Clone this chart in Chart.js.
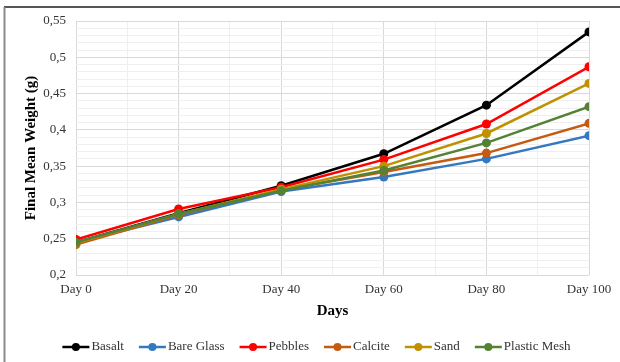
<!DOCTYPE html>
<html>
<head>
<meta charset="utf-8">
<script src="https://cdn.jsdelivr.net/npm/chart.js@4.4.1/dist/chart.umd.min.js"></script>
<style>
  body { margin: 0; background: #fff; }
  #wrap { width: 620px; height: 362px; position: relative; }
</style>
</head>
<body>
<div id="wrap"><canvas id="chart"></canvas></div>
<script>
const days = [0, 20, 40, 60, 80, 100];
const dayLabels = ["Day 0", "Day 20", "Day 40", "Day 60", "Day 80", "Day 100"];
const seriesNames = ["Basalt", "Bare Glass", "Pebbles", "Calcite", "Sand", "Plastic Mesh"];
const basalt = [0.245, 0.285, 0.323, 0.367, 0.434, 0.535];
const bareGlass = [0.245, 0.280, 0.315, 0.335, 0.360, 0.392];
const pebbles = [0.249, 0.291, 0.321, 0.359, 0.408, 0.487];
const calcite = [0.242, 0.283, 0.317, 0.342, 0.368, 0.409];
const sand = [0.244, 0.284, 0.318, 0.350, 0.395, 0.464];
const plasticMesh = [0.245, 0.284, 0.316, 0.344, 0.382, 0.432];
const yTicksMajor = [0.2, 0.25, 0.3, 0.35, 0.4, 0.45, 0.5, 0.55];

const colors = ["#000000", "#3478c0", "#ff0000", "#c55a11", "#bf9000", "#548235"];
const allSeries = [basalt, bareGlass, pebbles, calcite, sand, plasticMesh];

const datasets = allSeries.map((vals, i) => ({
  label: seriesNames[i],
  data: vals.map((v, j) => ({ x: days[j], y: v })),
  borderColor: colors[i],
  backgroundColor: colors[i],
  borderWidth: 2.5,
  pointRadius: 4.5,
  pointHoverRadius: 4.5,
  pointBorderWidth: 0,
  tension: 0,
  order: allSeries.length - i   // last series drawn on top, like Excel
}));

// chart border (top + left only are visible in the picture)
const frame = {
  id: "frame",
  afterDraw(chart) {
    const ctx = chart.ctx;
    ctx.save();
    ctx.strokeStyle = "#555";
    ctx.lineWidth = 2;
    ctx.beginPath(); ctx.moveTo(4, 7); ctx.lineTo(620, 7); ctx.stroke();
    ctx.strokeStyle = "#8a8a8a";
    ctx.beginPath(); ctx.moveTo(4.5, 7); ctx.lineTo(4.5, 362); ctx.stroke();
    ctx.restore();
  }
};

// legend with a short line + dot per series, drawn in the reserved bottom space
const lineLegend = {
  id: "lineLegend",
  afterDraw(chart) {
    const ctx = chart.ctx;
    const sets = chart.data.datasets;
    const markW = 27, gapText = 2, gapItem = 15, y = 347;
    ctx.save();
    ctx.font = "13px 'Liberation Serif'";
    const widths = sets.map(d => markW + gapText + ctx.measureText(d.label).width);
    const total = widths.reduce((a, b) => a + b, 0) + gapItem * (sets.length - 1);
    let x = 316.5 - total / 2;
    sets.forEach((d, i) => {
      ctx.strokeStyle = d.borderColor;
      ctx.lineWidth = 2.5;
      ctx.beginPath(); ctx.moveTo(x, y); ctx.lineTo(x + markW, y); ctx.stroke();
      ctx.fillStyle = d.borderColor;
      ctx.beginPath(); ctx.arc(x + markW / 2, y, 4, 0, Math.PI * 2); ctx.fill();
      ctx.fillStyle = "#333";
      ctx.textBaseline = "middle";
      ctx.fillText(d.label, x + markW + gapText, y);
      x += widths[i] + gapItem;
    });
    ctx.restore();
  }
};

function fmt(v) {
  return (Math.round(v * 100) / 100).toString().replace(".", ",");
}
function isMajorY(v) {
  return yTicksMajor.some(t => Math.abs(t - v) < 1e-6);
}

new Chart(document.getElementById("chart"), {
  type: "line",
  data: { datasets },
  options: {
    responsive: true,
    maintainAspectRatio: false,
    animation: false,
    layout: { padding: { left: 18, right: 31, top: 21, bottom: 30 } },
    plugins: {
      tooltip: { enabled: false },
      legend: { display: false }
    },
    scales: {
      x: {
        type: "linear",
        min: 0,
        max: 100,
        afterFit: (s) => { s.height = 57; },
        border: { display: false },
        grid: {
          drawTicks: false,
          color: (c) => (days.includes(c.tick.value) ? "#d9d9d9" : "#efefef")
        },
        ticks: {
          stepSize: 10,
          autoSkip: false,
          maxRotation: 0,
          padding: 7,
          color: "#333",
          font: { family: "Liberation Serif", size: 13 },
          callback: (v) => {
            const i = days.indexOf(v);
            return i >= 0 ? dayLabels[i] : "";
          }
        },
        title: {
          display: true,
          text: "Days",
          color: "#000",
          padding: { top: 0, bottom: 12 },
          font: { family: "Liberation Serif", size: 15, weight: "bold" }
        }
      },
      y: {
        min: 0.2,
        max: 0.55,
        border: { display: false },
        afterFit: (s) => { s.width = 58; },
        grid: {
          drawTicks: false,
          color: (c) => (isMajorY(c.tick.value) ? "#d9d9d9" : "#efefef")
        },
        ticks: {
          stepSize: 0.01,
          autoSkip: false,
          padding: 10,
          color: "#333",
          font: { family: "Liberation Serif", size: 13 },
          callback: (v) => (isMajorY(v) ? fmt(v) : "")
        },
        title: {
          display: true,
          text: "Final Mean Weight (g)",
          color: "#000",
          padding: { top: 4, bottom: 4 },
          font: { family: "Liberation Serif", size: 15, weight: "bold" }
        }
      }
    }
  },
  plugins: [frame, lineLegend]
});
</script>
</body>
</html>
